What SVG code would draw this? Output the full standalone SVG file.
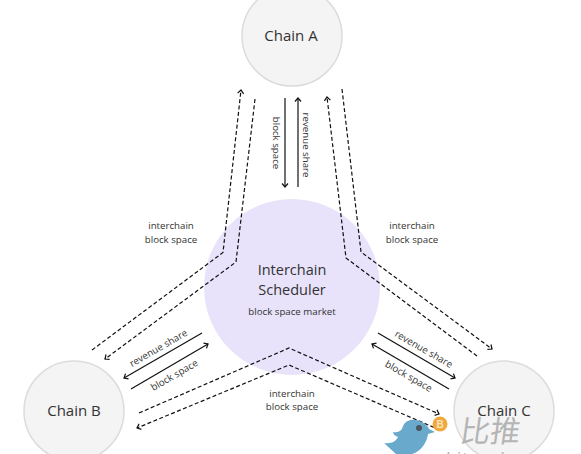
<svg xmlns="http://www.w3.org/2000/svg" width="581" height="454" viewBox="0 0 581 454">
<style>
text{font-family:"Open Sans","Noto Sans","Liberation Sans",sans-serif;fill:#333;text-anchor:middle}
.chain{fill:#f4f4f4;stroke:#dcdcdc;stroke-width:1.5}
.name{font-size:15px}
.small{font-size:9.7px}
.line{fill:none;stroke:#111;stroke-width:1.2}
.dash{stroke-dasharray:4 2.4}
.arrow{marker-end:url(#head)}
</style>
<defs>
<marker id="head" markerUnits="userSpaceOnUse" markerWidth="10" markerHeight="10" refX="6" refY="5" orient="auto">
<path d="M2.500 2 L6 5 L2.500 8" fill="none" stroke="#111" stroke-width="1.200"/>
</marker>
</defs>
<rect width="581" height="454" fill="#fff"/>
<g id="scheduler">
<circle cx="292" cy="287" r="88" fill="#e8e2fa"/>
<text x="292" y="275" class="name" style="font-size:14.5px">Interchain</text>
<text x="292" y="295" class="name" style="font-size:14.5px">Scheduler</text>
<text x="292" y="315" class="small">block space market</text>
</g>
<g id="chain-a">
<circle cx="292" cy="36" r="50" class="chain"/>
<text x="291" y="41" class="name">Chain A</text>
</g>
<g id="chain-b">
<circle cx="74" cy="411" r="50" class="chain"/>
<text x="74" y="416" class="name">Chain B</text>
</g>
<g id="chain-c">
<circle cx="504" cy="411" r="50" class="chain"/>
<text x="504" y="416" class="name">Chain C</text>
</g>
<g id="connectors">
<path class="line dash arrow" d="M92 350 L223 252.500 L241 90"/>
<path class="line dash arrow" d="M255 99 L236 262 L105 359"/>
<path class="line dash arrow" d="M342 89 L361 252 L492 349"/>
<path class="line dash arrow" d="M477 356 L346 258 L327 97"/>
<path class="line dash arrow" d="M139 413 L289 348 L439 414"/>
<path class="line dash arrow" d="M440 430 L289 365 L137 428"/>
<path class="line arrow" d="M285 98 L285 187"/>
<path class="line arrow" d="M298 187 L298 98"/>
<path class="line arrow" d="M202 333 L124 378"/>
<path class="line arrow" d="M131 389 L208 344"/>
<path class="line arrow" d="M378 333 L455 378"/>
<path class="line arrow" d="M449 389 L372 344"/>
</g>
<g id="labels">
<text class="small" transform="translate(273 143) rotate(90)">block space</text>
<text class="small" transform="translate(303 145) rotate(90)">revenue share</text>
<text class="small" x="171" y="229">interchain</text>
<text class="small" x="171" y="243">block space</text>
<text class="small" x="412" y="229">interchain</text>
<text class="small" x="412" y="243">block space</text>
<text class="small" x="292" y="397">interchain</text>
<text class="small" x="292" y="410">block space</text>
<text class="small" transform="translate(160 351) rotate(-30)">revenue share</text>
<text class="small" transform="translate(176 378) rotate(-30)">block space</text>
<text class="small" transform="translate(422 352) rotate(30)">revenue share</text>
<text class="small" transform="translate(407 379) rotate(30)">block space</text>
</g>
<g id="watermark">
<path d="M384 443 C392 444 396 441 398 437 C395 436 393 434 393 432 C398 433 400 431 402 429 C404 421 410 419 416 420 C423 421 428 426 429 429 L435 432 L428 434 C427 443 420 452 412 454 L396 454 C392 450 388 447 384 443Z" fill="#68a9cc"/>
<circle cx="419" cy="428" r="3" fill="#4a5560"/>
<circle cx="440" cy="424" r="7.500" fill="#eea93f"/>
<text x="440" y="428" style="font-size:10px;fill:#fbe3bd;font-family:'Liberation Sans',sans-serif;font-weight:bold">B</text>
<text transform="translate(489 442) skewX(-8)" style="font-size:30px;fill:#b5b5b5;font-family:'Noto Sans CJK SC',sans-serif">比推</text>
<text x="505" y="464" style="font-size:17px;fill:#b5b5b5;letter-spacing:1.500px;font-family:'Liberation Sans',sans-serif">bitpush.news</text>
</g>
</svg>
